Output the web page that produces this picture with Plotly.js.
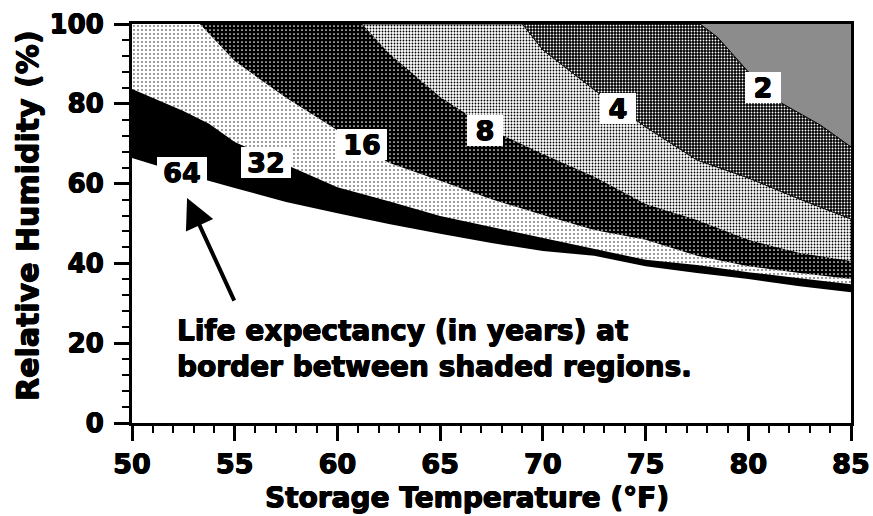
<!DOCTYPE html>
<html>
<head>
<meta charset="utf-8">
<script src="https://cdn.plot.ly/plotly-3.0.1.min.js"></script>
<style>
  html, body { margin: 0; padding: 0; background: #ffffff; }
  #chart { width: 873px; height: 516px; }
</style>
</head>
<body>
<div id="chart"></div>
<script>
// ---- Data ----
// Each boundary: life expectancy (years) at the border between shaded regions
const b64x = [50, 52.5, 55, 57.5, 60, 62.5, 65, 67.5, 70, 72.5, 75, 77.5, 80, 82.5, 85];
const b64y = [66.4, 62.5, 58.9, 55.4, 52.6, 49.9, 47.4, 45.1, 43.1, 41.9, 39.3, 37.6, 36.1, 34.3, 32.8];

const b32x = [50, 51.25, 52.5, 53.75, 55, 57.5, 60, 62.5, 65, 67.5, 70, 72.5, 75, 77.5, 80, 82.5, 85];
const b32y = [83.7, 81.0, 78.2, 75.0, 70.4, 64.7, 59.1, 55.6, 51.9, 49.1, 46.4, 43.6, 40.9, 39.6, 37.8, 36.3, 34.8];

const b16x = [53.3, 55, 57.5, 60, 62.5, 65, 67.5, 70, 72.5, 75, 77.5, 80, 82.5, 85];
const b16y = [100, 90.7, 81.5, 73.4, 65.2, 60.7, 56.1, 52.1, 48.4, 45.9, 41.9, 39.3, 37.6, 36.1];

const b8x = [61.2, 62.5, 65, 67.5, 70, 72.5, 75, 77.5, 80, 82.5, 85];
const b8y = [100, 92.7, 81.7, 73.4, 67.4, 61.7, 54.9, 50.9, 45.9, 42.6, 40.6];

const b4x = [69.0, 70, 72.5, 75, 77.5, 80, 82.5, 85];
const b4y = [100, 93.5, 83.5, 74.2, 65.9, 61.4, 56.1, 51.1];

const b2x = [77.65, 78.5, 79.3, 80, 81.5, 82.5, 83.5, 85];
const b2y = [100, 96.7, 92.2, 88.0, 80.5, 77.7, 74.7, 69.2];

// Border labels (years) and where they sit
const labelText = ['64', '32', '16', '8', '4', '2'];
const labelX = [52.43, 56.52, 61.2, 67.19, 73.66, 80.72];
const labelY = [62.9, 65.4, 69.9, 73.2, 78.9, 84.2];

const xTickVals = [50, 55, 60, 65, 70, 75, 80, 85];
const yTickVals = [0, 20, 40, 60, 80, 100];

const noteText = 'Life expectancy (in years) at<br>border between shaded regions.';
const xTitle = 'Storage Temperature (°F)';
const yTitle = 'Relative Humidity (%)';

// ---- Build chart ----
const X_RANGE = [50, 85];
const Y_RANGE = [0, 100];
const FONT = "'DejaVu Sans', 'Liberation Sans', sans-serif";
const HEAVY = '0.6px 0 0 #000, -0.6px 0 0 #000, 0 0.5px 0 #000, 0 -0.5px 0 #000';

function f(size) {
  return { family: FONT, size: size, color: '#000000', weight: 'bold', shadow: HEAVY };
}

function withTopCorner(xs, ys) {
  // boundary that enters from the top edge: continue along the top edge to the left side
  if (ys[0] >= Y_RANGE[1]) return { x: [X_RANGE[0]].concat(xs), y: [Y_RANGE[1]].concat(ys) };
  return { x: xs.slice(), y: ys.slice() };
}

function band(xs, ys, style, lineW) {
  const p = withTopCorner(xs, ys);
  const t = {
    type: 'scatter', mode: 'lines', x: p.x, y: p.y,
    fill: 'tozeroy', hoverinfo: 'skip', showlegend: false,
    line: { color: '#000000', width: lineW || 0 },
    fillcolor: style.bg
  };
  if (style.pattern) {
    t.fillpattern = { shape: '.', bgcolor: style.bg, fgcolor: style.fg, size: style.size, solidity: style.solidity };
  }
  return t;
}

const traces = [
  band([X_RANGE[0], X_RANGE[1]], [Y_RANGE[1], Y_RANGE[1]], { bg: '#8c8c8c' }),                  // < 2 years
  band(b2x, b2y, { pattern: true, bg: '#000000', fg: '#ffffff', size: 3, solidity: 0.3 }, 1),    // 2 - 4
  band(b4x, b4y, { pattern: true, bg: '#ffffff', fg: '#000000', size: 3, solidity: 0.3 }, 1),    // 4 - 8
  band(b8x, b8y, { pattern: true, bg: '#000000', fg: '#ffffff', size: 4, solidity: 0.14 }),      // 8 - 16
  band(b16x, b16y, { pattern: true, bg: '#ffffff', fg: '#000000', size: 4, solidity: 0.10 }),    // 16 - 32
  band(b32x, b32y, { bg: '#000000' }),                                                           // 32 - 64
  band(b64x, b64y, { bg: '#ffffff' })                                                            // > 64
];

const annotations = labelText.map((t, i) => ({
  x: labelX[i], y: labelY[i], xref: 'x', yref: 'y', text: t, showarrow: false,
  font: f(27),
  bgcolor: '#ffffff', borderpad: 0, borderwidth: 0,
  width: t.length > 1 ? 50 : 36, height: 31, valign: 'middle'
}));

annotations.push({
  x: 52.09, y: 18.6, xref: 'x', yref: 'y', xanchor: 'left', yanchor: 'middle', align: 'left',
  text: noteText, showarrow: false,
  font: f(28)
});

annotations.push({
  x: 52.68, y: 56.4, ax: 55.01, ay: 30.3, xref: 'x', yref: 'y', axref: 'x', ayref: 'y',
  text: '', showarrow: true, arrowhead: 2, arrowsize: 1.5, arrowwidth: 4, arrowcolor: '#000000', standoff: 0
});

// axis titles
annotations.push({
  x: 0.466, y: -0.186, xref: 'paper', yref: 'paper', xanchor: 'center', yanchor: 'middle',
  text: xTitle, showarrow: false,
  font: f(28)
});
annotations.push({
  x: -0.1446, y: 0.519, xref: 'paper', yref: 'paper', xanchor: 'center', yanchor: 'middle',
  text: yTitle, showarrow: false, textangle: -90,
  font: f(30)
});

const axisCommon = {
  showgrid: false, zeroline: false, showline: true, linecolor: '#000000', linewidth: 3, mirror: true,
  ticks: 'outside', tickcolor: '#000000', tickwidth: 3, ticklen: 15,
  automargin: false, fixedrange: true
};

const layout = {
  width: 873, height: 516,
  margin: { l: 132, r: 22, t: 24, b: 93 },
  paper_bgcolor: '#ffffff', plot_bgcolor: '#ffffff',
  showlegend: false,
  xaxis: Object.assign({}, axisCommon, {
    range: X_RANGE, tickvals: xTickVals, ticklabelstandoff: 0,
    tickfont: f(27),
    minor: { dtick: 1, ticks: 'outside', ticklen: 7, tickwidth: 2, tickcolor: '#000000', showgrid: false }
  }),
  yaxis: Object.assign({}, axisCommon, {
    range: Y_RANGE, tickvals: yTickVals, ticklabelstandoff: 5,
    tickfont: f(26),
    minor: { dtick: 4, ticks: 'outside', ticklen: 7, tickwidth: 2, tickcolor: '#000000', showgrid: false }
  }),
  annotations: annotations
};

Plotly.newPlot('chart', traces, layout, { displayModeBar: false, staticPlot: true });
</script>
</body>
</html>
